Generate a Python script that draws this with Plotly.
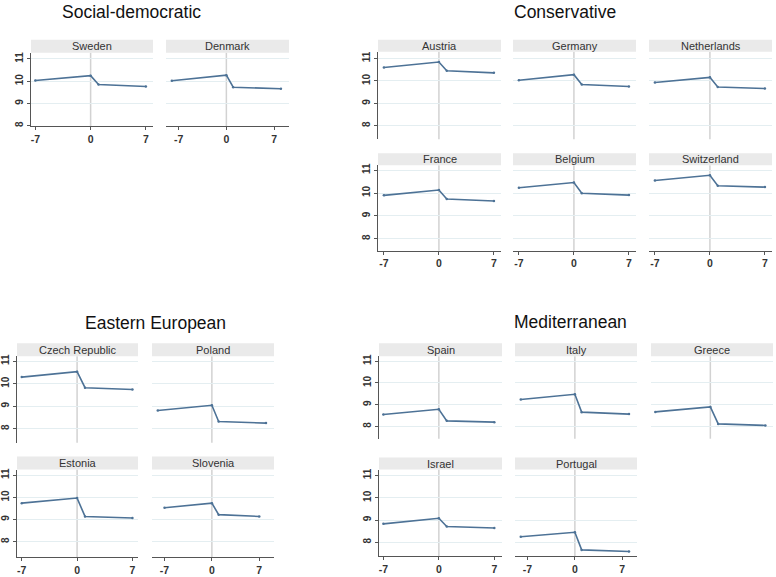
import plotly.graph_objects as go

W, H = 776, 577

# ---------------- data (event time vs. value) ----------------
years_std = [-7, 0, 1, 7]
years_wide = [-8, 0, 1, 8]
x_ticks = [-7, 0, 7]
x_tick_labels = ["-7", "0", "7"]
y_ticks = [8, 9, 10, 11]
y_tick_labels = ["8", "9", "10", "11"]

group_titles = ["Social-democratic", "Conservative", "Eastern European", "Mediterranean"]

sweden = [10.03, 10.25, 9.85, 9.76]
denmark = [10.02, 10.27, 9.73, 9.66]
austria = [10.60, 10.84, 10.45, 10.36]
germany = [10.03, 10.28, 9.84, 9.75]
netherlands = [9.93, 10.16, 9.73, 9.66]
france = [9.90, 10.13, 9.74, 9.65]
belgium = [10.23, 10.46, 9.99, 9.91]
switzerland = [10.55, 10.78, 10.32, 10.26]
czech = [10.29, 10.53, 9.82, 9.74]
poland = [8.81, 9.04, 8.32, 8.25]
estonia = [9.74, 9.97, 9.14, 9.07]
slovenia = [9.53, 9.74, 9.22, 9.14]
spain = [8.55, 8.79, 8.26, 8.20]
italy = [9.24, 9.48, 8.66, 8.57]
greece = [8.67, 8.90, 8.12, 8.05]
israel = [8.83, 9.08, 8.71, 8.64]
portugal = [8.25, 8.45, 7.66, 7.59]

# ---------------- layout geometry (pixels) ----------------
# (name, years, values, left, right, strip_top, strip_bottom, plot_bottom, xrange, yrange, show_y, show_x)
XR_N = [-7.55, 7.9]
XR_W = [-8.85, 9.18]
panels = [
    ("Sweden", years_std, sweden, 31, 153, 38, 51, 125, XR_N, [7.97, 11.28], True, True),
    ("Denmark", years_wide, denmark, 166, 289, 38, 51, 125, XR_W, [7.97, 11.28], False, True),
    ("Austria", years_std, austria, 378, 501, 38, 50, 138, [-7.75, 7.9], [7.4, 11.3], True, False),
    ("Germany", years_std, germany, 513, 636, 38, 50, 138, [-7.75, 7.9], [7.4, 11.3], False, False),
    ("Netherlands", years_std, netherlands, 649, 772, 38, 50, 138, [-7.75, 7.9], [7.4, 11.3], False, False),
    ("France", years_std, france, 378, 501, 152, 164, 250, [-7.75, 7.9], [7.48, 11.22], True, True),
    ("Belgium", years_std, belgium, 513, 636, 152, 164, 250, [-7.75, 7.9], [7.48, 11.22], False, True),
    ("Switzerland", years_std, switzerland, 649, 772, 152, 164, 250, [-7.75, 7.9], [7.48, 11.22], False, True),
    ("Czech Republic", years_std, czech, 17, 138, 343, 356, 443, [-7.6, 7.7], [7.38, 11.22], True, False),
    ("Poland", years_wide, poland, 152, 274, 343, 356, 443, XR_W, [7.38, 11.22], False, False),
    ("Estonia", years_std, estonia, 17, 138, 457, 470, 558, [-7.6, 7.7], [7.3, 11.26], True, True),
    ("Slovenia", years_std, slovenia, 152, 274, 457, 470, 558, XR_W, [7.3, 11.26], False, True),
    ("Spain", years_std, spain, 379, 502, 343, 356, 439, [-7.55, 7.97], [7.44, 11.23], True, False),
    ("Italy", years_wide, italy, 515, 637, 343, 356, 439, XR_W, [7.44, 11.23], False, False),
    ("Greece", years_std, greece, 651, 773, 343, 356, 439, [-7.55, 7.97], [7.44, 11.23], False, False),
    ("Israel", years_std, israel, 379, 502, 458, 470, 557, [-7.55, 7.97], [7.38, 11.27], True, True),
    ("Portugal", years_wide, portugal, 515, 637, 458, 470, 557, XR_W, [7.38, 11.27], False, True),
]
title_pos = [(131, 10), (565, 10), (155, 323), (570, 322)]

LINE_COL = "#4d7296"
GRID_COL = "#e4eef1"
ZERO_COL = "#d2d2d2"
AXIS_COL = "#555555"
STRIP_COL = "#eaeaea"
FONT = "Liberation Sans, Arial, sans-serif"

fig = go.Figure()
layout = dict(
    width=W, height=H, margin=dict(l=0, r=0, t=0, b=0),
    paper_bgcolor="white", plot_bgcolor="white", showlegend=False,
    font=dict(family=FONT, color="#222"),
)
shapes, annotations = [], []

for i, (name, yrs, vals, x0, x1, st, sb, pb, xr, yr, show_y, show_x) in enumerate(panels, start=1):
    sfx = "" if i == 1 else str(i)
    fig.add_trace(go.Scatter(
        x=yrs, y=vals, xaxis=f"x{sfx}", yaxis=f"y{sfx}", mode="lines+markers",
        line=dict(color=LINE_COL, width=1.6), marker=dict(color=LINE_COL, size=2.5),
        hoverinfo="x+y",
    ))
    layout[f"xaxis{sfx}"] = dict(
        domain=[x0 / W, x1 / W], range=xr, anchor=f"y{sfx}", showgrid=False, zeroline=False,
        showline=show_x, linecolor=AXIS_COL, linewidth=1,
        ticks="outside" if show_x else "", ticklen=3, tickcolor=AXIS_COL,
        tickvals=x_ticks, ticktext=[f"<b>{t}</b>" for t in x_tick_labels],
        showticklabels=show_x, tickfont=dict(size=10.5, color="#333"),
        fixedrange=True,
    )
    layout[f"yaxis{sfx}"] = dict(
        domain=[1 - pb / H, 1 - sb / H], range=yr, anchor=f"x{sfx}", showgrid=True,
        gridcolor=GRID_COL, gridwidth=1, zeroline=False,
        showline=show_y, linecolor=AXIS_COL, linewidth=1,
        ticks="outside" if show_y else "", ticklen=3, tickcolor=AXIS_COL,
        tickvals=y_ticks, ticktext=[f"<b>{t}</b>" for t in y_tick_labels],
        showticklabels=show_y, tickangle=-90,
        tickfont=dict(size=10, color="#333"), fixedrange=True,
    )
    shapes.append(dict(type="line", xref=f"x{sfx}", yref=f"y{sfx} domain", x0=0, x1=0, y0=0, y1=1,
                       line=dict(color=ZERO_COL, width=1.5), layer="below"))
    shapes.append(dict(type="rect", xref="paper", yref="paper", x0=x0 / W, x1=x1 / W,
                       y0=1 - sb / H, y1=1 - st / H, fillcolor=STRIP_COL, line=dict(width=0),
                       layer="below"))
    annotations.append(dict(text=name, xref="paper", yref="paper", x=(x0 + x1) / 2 / W,
                            y=1 - (st + sb) / 2 / H, showarrow=False, xanchor="center",
                            yanchor="middle", font=dict(size=11, color="#333", family=FONT)))

for t, (cx, cy) in zip(group_titles, title_pos):
    annotations.append(dict(text=t, xref="paper", yref="paper", x=cx / W, y=1 - cy / H,
                            showarrow=False, xanchor="center", yanchor="middle",
                            font=dict(size=17.5, color="#111", family=FONT)))

layout["shapes"] = shapes
layout["annotations"] = annotations
fig.update_layout(**layout)
fig.write_html("out.html", config={"displayModeBar": False},
               post_script="document.body.style.margin='0px';")
